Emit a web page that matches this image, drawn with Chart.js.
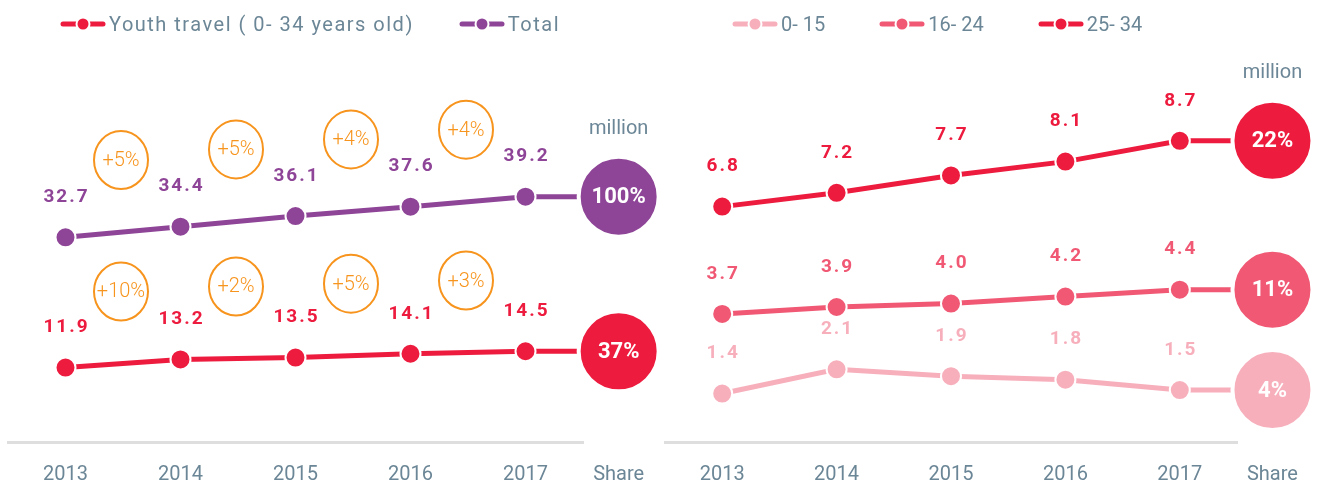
<!DOCTYPE html>
<html>
<head>
<meta charset="utf-8">
<title>Youth travel</title>
<script src="https://cdn.jsdelivr.net/npm/chart.js@4.4.1/dist/chart.umd.min.js"></script>
<style>
  body { margin: 0; background: #fff; font-family: Roboto, sans-serif; }
  .panel { position: absolute; top: 0; height: 487px; }
  .legend { position: absolute; top: 12px; display: flex; align-items: center; color: #6b8696; font-size: 20px; line-height: 24px; }
  .legend .item { display: flex; align-items: center; }
  .legend canvas { margin-right: 3px; }
  #youth-legend span { letter-spacing: 1.5px; }
</style>
</head>
<body>
<div class="panel" style="left:0;width:660px">
  <canvas id="youth-chart" width="660" height="487"></canvas>
  <div class="legend" id="youth-legend" style="left:60px"></div>
</div>
<div class="panel" style="left:660px;width:665px">
  <canvas id="age-chart" width="665" height="487"></canvas>
  <div class="legend" id="age-legend" style="left:72px"></div>
</div>
<script>
// data (million trips)
const years = ['2013', '2014', '2015', '2016', '2017'];
const youthTravel = [11.9, 13.2, 13.5, 14.1, 14.5];
const totalTravel = [32.7, 34.4, 36.1, 37.6, 39.2];
const youthGrowth = ['+10%', '+2%', '+5%', '+3%'];
const totalGrowth = ['+5%', '+5%', '+4%', '+4%'];
const youthShare = '37%';
const totalShare = '100%';

const age0to15 = [1.4, 2.1, 1.9, 1.8, 1.5];
const age16to24 = [3.7, 3.9, 4.0, 4.2, 4.4];
const age25to34 = [6.8, 7.2, 7.7, 8.1, 8.7];
const ageShares = ['4%', '11%', '22%'];

const GREY = '#6b8696';
const ORANGE = '#f7941d';
const SHARE_X = 4.81; // share column is a bit closer than one year step

function makeLine(label, values, share, color, growth) {
  const pts = values.map((v, i) => ({ x: i, y: v }));
  pts.push({ x: SHARE_X, y: values[values.length - 1] }); // big share bubble
  const n = values.length;
  return {
    label: label,
    data: pts,
    share: share,
    growth: growth,
    borderColor: color,
    backgroundColor: color,
    borderWidth: 5,
    pointBackgroundColor: color,
    pointBorderColor: '#fff',
    pointRadius: pts.map((p, i) => i < n ? 10 : 40),
    pointHoverRadius: pts.map((p, i) => i < n ? 10 : 40),
    pointBorderWidth: pts.map((p, i) => i < n ? 2 : 4),
    pointHoverBorderWidth: pts.map((p, i) => i < n ? 2 : 4),
    clip: false,
    tension: 0
  };
}

function drawMarker(canvas, color) {
  const c = canvas.getContext('2d');
  c.lineCap = 'round';
  c.strokeStyle = color;
  c.lineWidth = 5;
  c.beginPath(); c.moveTo(3, 7); c.lineTo(43, 7); c.stroke();
  c.fillStyle = '#fff';
  c.beginPath(); c.arc(23, 7, 7.5, 0, Math.PI * 2); c.fill();
  c.fillStyle = color;
  c.beginPath(); c.arc(23, 7, 5.5, 0, Math.PI * 2); c.fill();
}

// legend as html above the canvas
const htmlLegend = {
  id: 'htmlLegend',
  afterUpdate(chart, args, opts) {
    const box = document.getElementById(opts.containerID);
    box.innerHTML = '';
    chart.data.datasets.forEach(ds => {
      const item = document.createElement('div');
      item.className = 'item';
      item.style.marginRight = opts.gap + 'px';
      const mark = document.createElement('canvas');
      mark.width = 46; mark.height = 14;
      drawMarker(mark, ds.borderColor);
      const txt = document.createElement('span');
      txt.textContent = ds.label;
      item.appendChild(mark);
      item.appendChild(txt);
      box.appendChild(item);
    });
  }
};

const pointLabels = {
  id: 'pointLabels',
  afterDatasetsDraw(chart) {
    const ctx = chart.ctx;
    let topShare = null;
    ctx.save();
    ctx.textAlign = 'center';
    ctx.textBaseline = 'middle';
    chart.data.datasets.forEach((ds, i) => {
      const pts = chart.getDatasetMeta(i).data;
      const n = pts.length - 1;
      // values above the dots
      ctx.fillStyle = ds.borderColor;
      ctx.font = 'bold 19px Roboto';
      ctx.letterSpacing = '2px';
      for (let j = 0; j < n; j++) {
        ctx.fillText(ds.data[j].y.toFixed(1), pts[j].x + 1, pts[j].y - 40);
      }
      ctx.letterSpacing = '0px';
      // growth bubbles between years
      if (ds.growth) {
        ctx.font = '300 20px Roboto';
        ctx.strokeStyle = ORANGE;
        ctx.lineWidth = 2;
        ds.growth.forEach((g, j) => {
          const mx = (pts[j].x + pts[j + 1].x) / 2 - 2;
          const my = (pts[j].y + pts[j + 1].y) / 2 - 72;
          ctx.beginPath();
          ctx.ellipse(mx, my, 27, 29, 0, 0, Math.PI * 2);
          ctx.stroke();
          ctx.fillStyle = ORANGE;
          ctx.fillText(g, mx, my + 1);
        });
      }
      // share inside the big bubble
      const last = pts[n];
      ctx.fillStyle = '#fff';
      ctx.font = 'bold 22px Roboto';
      ctx.fillText(ds.share, last.x, last.y + 1);
      if (!topShare || last.y < topShare.y) topShare = last;
    });
    ctx.fillStyle = GREY;
    ctx.font = '20px Roboto';
    ctx.fillText('million', topShare.x, topShare.y - 68);
    ctx.fillText('Share', topShare.x, chart.chartArea.bottom + 33);
    ctx.restore();
  }
};

function makeConfig(datasets, yMax, padding, legendId, gap) {
  return {
    type: 'line',
    data: { datasets: datasets },
    options: {
      responsive: false,
      animation: false,
      layout: { padding: padding, autoPadding: false },
      plugins: {
        legend: { display: false },
        tooltip: { enabled: false },
        htmlLegend: { containerID: legendId, gap: gap }
      },
      scales: {
        x: {
          type: 'linear',
          min: -0.5,
          max: 4.5,
          afterBuildTicks: (scale) => {
            scale.ticks = years.map((y, i) => ({ value: i }));
          },
          afterFit: (scale) => { scale.height = 45; },
          ticks: {
            callback: (v) => years[v],
            color: GREY,
            font: { family: 'Roboto', size: 20 },
            padding: 0,
            autoSkip: false,
            maxRotation: 0
          },
          grid: { display: false, drawTicks: true, tickLength: 21 },
          border: { display: true, color: '#dedede', width: 3 }
        },
        y: { display: false, min: 0, max: yMax }
      }
    },
    plugins: [htmlLegend, pointLabels]
  };
}

const youthCtx = document.getElementById('youth-chart').getContext('2d');
const ageCtx = document.getElementById('age-chart').getContext('2d');

const youthChart = new Chart(youthCtx, makeConfig([
  makeLine('Youth travel ( 0- 34 years old)', youthTravel, youthShare, '#ed1b3e', youthGrowth),
  makeLine('Total', totalTravel, totalShare, '#8e4497', totalGrowth)
], 60.4, { top: 64, left: 8, right: 77, bottom: 0 }, 'youth-legend', 45));

const ageChart = new Chart(ageCtx, makeConfig([
  makeLine('0- 15', age0to15, ageShares[0], '#f7afbc'),
  makeLine('16- 24', age16to24, ageShares[1], '#f05874'),
  makeLine('25- 34', age25to34, ageShares[2], '#ed1b3e')
], 10.92, { top: 64, left: 5, right: 88, bottom: 0 }, 'age-legend', 54));
</script>
</body>
</html>
